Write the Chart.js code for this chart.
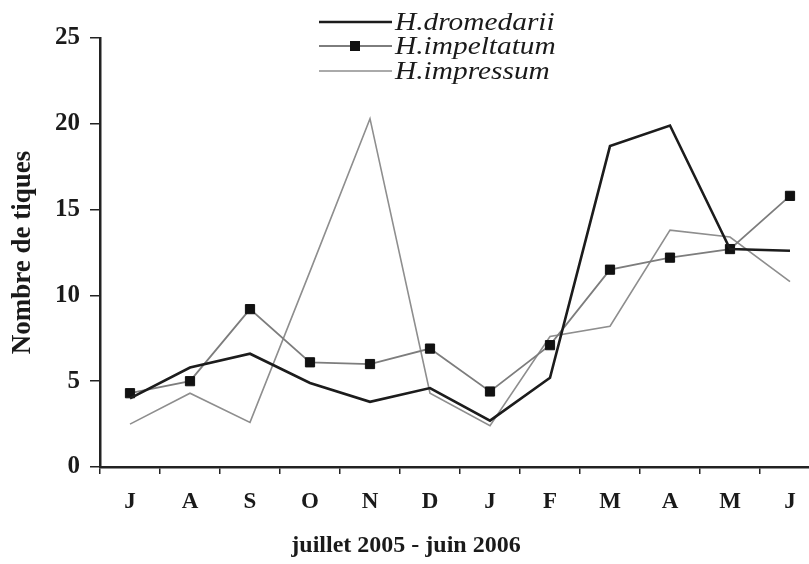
<!DOCTYPE html>
<html>
<head>
<meta charset="utf-8">
<script src="https://cdn.jsdelivr.net/npm/chart.js@4"></script>
<style>
  html, body { margin: 0; padding: 0; background: #fff; overflow: hidden; }
  #wrap { width: 830px; height: 564px; }
</style>
</head>
<body>
<div id="wrap"><canvas id="ticksChart"></canvas></div>
<script>
// mois juillet 2005 - juin 2006
const months = ['J', 'A', 'S', 'O', 'N', 'D', 'J', 'F', 'M', 'A', 'M', 'J'];
const dromedarii = [4.0, 5.8, 6.6, 4.9, 3.8, 4.6, 2.7, 5.2, 18.7, 19.9, 12.7, 12.6];
const impeltatum = [4.3, 5.0, 9.2, 6.1, 6.0, 6.9, 4.4, 7.1, 11.5, 12.2, 12.7, 15.8];
const impressum = [2.5, 4.3, 2.6, 11.4, 20.3, 4.3, 2.4, 7.6, 8.2, 13.8, 13.4, 10.8];
const yTicks = [0, 5, 10, 15, 20, 25];
const xTitle = 'juillet 2005 - juin 2006';

const serif = '"Liberation Serif", "Times New Roman", serif';

// legend + x title drawn by hand (the canvas is wider than the window)
const legendPlugin = {
  id: 'handLegend',
  afterDraw(chart) {
    const ctx = chart.ctx;
    const rows = [22, 46, 71];
    ctx.save();
    chart.data.datasets.forEach((ds, i) => {
      const y = rows[i];
      ctx.strokeStyle = ds.borderColor;
      ctx.lineWidth = ds.borderWidth;
      ctx.beginPath();
      ctx.moveTo(319, y);
      ctx.lineTo(392, y);
      ctx.stroke();
      if (ds.pointRadius > 0) {
        ctx.fillStyle = ds.pointBackgroundColor;
        ctx.fillRect(350, y - 5, 10, 10);
      }
      ctx.save();
      ctx.translate(395, y + 1);
      ctx.scale(1.13, 1);
      ctx.fillStyle = '#1a1a1a';
      ctx.font = 'italic 26px ' + serif;
      ctx.textBaseline = 'middle';
      ctx.fillText(ds.label, 0, 0);
      ctx.restore();
    });
    ctx.fillStyle = '#1a1a1a';
    ctx.font = 'bold 24px ' + serif;
    ctx.textAlign = 'center';
    ctx.textBaseline = 'middle';
    ctx.fillText(xTitle, 406, 546);
    ctx.restore();
  }
};

const ctx = document.getElementById('ticksChart').getContext('2d');
new Chart(ctx, {
  type: 'line',
  data: {
    labels: months,
    datasets: [
      {
        label: 'H.dromedarii',
        data: dromedarii,
        borderColor: '#1c1c1c',
        borderWidth: 2.6,
        pointRadius: 0,
        tension: 0
      },
      {
        label: 'H.impeltatum',
        data: impeltatum,
        borderColor: '#7d7d7d',
        borderWidth: 1.8,
        pointStyle: 'rect',
        pointRadius: 6.5,
        pointBackgroundColor: '#111',
        pointBorderColor: '#111',
        pointBorderWidth: 1,
        tension: 0
      },
      {
        label: 'H.impressum',
        data: impressum,
        borderColor: '#8e8e8e',
        borderWidth: 1.6,
        pointRadius: 0,
        tension: 0
      }
    ]
  },
  options: {
    responsive: true,
    maintainAspectRatio: false,
    animation: false,
    layout: { padding: { top: 38, right: 10, left: 0, bottom: 0 } },
    plugins: {
      legend: { display: false },
      tooltip: { enabled: false }
    },
    scales: {
      x: {
        offset: true,
        grid: {
          offset: true,
          drawOnChartArea: false,
          color: '#222',
          lineWidth: 1.5,
          tickLength: 7
        },
        border: { color: '#222', width: 2.5 },
        ticks: {
          color: '#1a1a1a',
          padding: 14,
          maxRotation: 0,
          autoSkip: false,
          font: { family: serif, size: 23, weight: 'bold' }
        },
        afterFit(scale) { scale.height = 97; }
      },
      y: {
        min: 0,
        max: 25,
        afterBuildTicks(scale) { scale.ticks = yTicks.map(v => ({ value: v })); },
        grid: {
          drawOnChartArea: false,
          color: '#222',
          lineWidth: 1.5,
          tickLength: 10
        },
        border: { color: '#222', width: 2.5 },
        ticks: {
          color: '#1a1a1a',
          padding: 10,
          font: { family: serif, size: 25, weight: 'bold' }
        },
        title: {
          display: true,
          text: 'Nombre de tiques',
          color: '#1a1a1a',
          padding: { top: 7, bottom: 0 },
          font: { family: serif, size: 27, weight: 'bold' }
        },
        afterFit(scale) { scale.width = 100; }
      }
    }
  },
  plugins: [legendPlugin]
});
</script>
</body>
</html>
